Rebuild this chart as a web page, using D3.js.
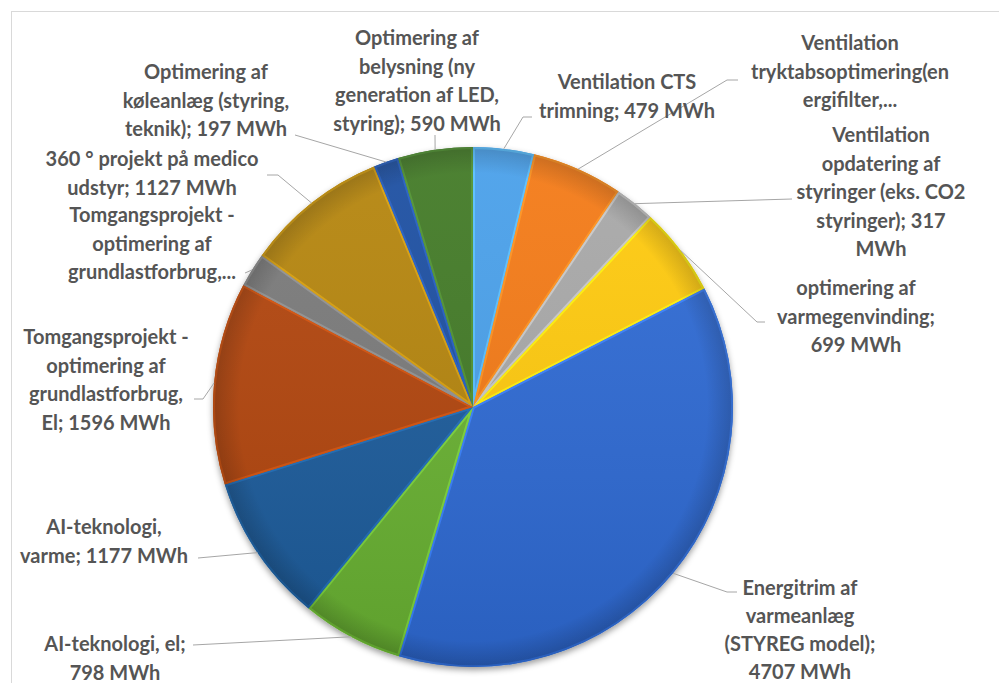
<!DOCTYPE html>
<html>
<head>
<meta charset="utf-8">
<script src="https://cdn.jsdelivr.net/npm/d3@7"></script>
<style>
	html, body { margin: 0; padding: 0; background: #fff; }
	svg { display: block; }
</style>
</head>
<body>
<div id="chart"></div>
<script>
// DATA (clockwise from 12 o'clock)
const categories = [
	"Ventilation CTS trimning",
	"Ventilation tryktabsoptimering(energifilter,...",
	"Ventilation opdatering af styringer (eks. CO2 styringer)",
	"optimering af varmegenvinding",
	"Energitrim af varmeanlæg (STYREG model)",
	"AI-teknologi, el",
	"AI-teknologi, varme",
	"Tomgangsprojekt - optimering af grundlastforbrug, El",
	"Tomgangsprojekt - optimering af grundlastforbrug,...",
	"360 ° projekt på medico udstyr",
	"Optimering af køleanlæg (styring, teknik)",
	"Optimering af belysning (ny generation af LED, styring)",
];
const values = [479, 720, 317, 699, 4707, 798, 1177, 1596, 270, 1127, 197, 590];
const labelLines = [
	["Ventilation CTS", "trimning; 479 MWh"],
	["Ventilation", "tryktabsoptimering(en", "ergifilter,..."],
	["Ventilation", "opdatering af", "styringer (eks. CO2", "styringer); 317", "MWh"],
	["optimering af", "varmegenvinding;", "699 MWh"],
	["Energitrim af", "varmeanlæg", "(STYREG model);", "4707 MWh"],
	["AI-teknologi, el;", "798 MWh"],
	["AI-teknologi,", "varme; 1177 MWh"],
	["Tomgangsprojekt -", "optimering af", "grundlastforbrug,", "El; 1596 MWh"],
	["Tomgangsprojekt -", "optimering af", "grundlastforbrug,..."],
	["360 ° projekt på medico", "udstyr; 1127 MWh"],
	["Optimering af", "køleanlæg (styring,", "teknik); 197 MWh"],
	["Optimering af", "belysning (ny", "generation af LED,", "styring); 590 MWh"],
];
const colors = [
	"#4aa0ea", "#f47a18", "#a8a8a8", "#ffca08", "#2f6bd4", "#69b232",
	"#1a5c9c", "#b2450a", "#7a7a7a", "#b5850a", "#1d4fa2", "#427a28",
];

// LABEL LAYOUT: text centre x, first line y, attach point, elbow x
const labelLayout = [
	{ cx: 627, y: 82, ax: 532, ay: 117, ex: 523 },
	{ cx: 850, y: 43, ax: 738, ay: 80, ex: 727 },
	{ cx: 881, y: 135, ax: 792, ay: 199, ex: null },
	{ cx: 856, y: 288, ax: 765, ay: 322, ex: 757 },
	{ cx: 800, y: 588, ax: 737, ay: 592, ex: 727 },
	{ cx: 115, y: 644, ax: 193, ay: 645, ex: null },
	{ cx: 104, y: 527, ax: 198, ay: 558, ex: null },
	{ cx: 106, y: 337, ax: 194, ay: 399, ex: 203 },
	{ cx: 152, y: 215, ax: 245, ay: 273, ex: null },
	{ cx: 152, y: 159, ax: 267, ay: 175, ex: 278 },
	{ cx: 206, y: 72, ax: 295, ay: 135, ex: null },
	{ cx: 417, y: 38, ax: 435, ay: 135, ex: null },
];

//DIMENSIONS
const width = 999,
	height = 683,
	cx = 473,
	cy = 407,
	radius = 260,
	lineHeight = 28.5;

const svg = d3
	.select("#chart")
	.append("svg")
	.attr("width", width)
	.attr("height", height);

const defs = svg.append("defs");

//SHADOW UNDER PIE
defs
	.append("filter")
	.attr("id", "pieShadow")
	.attr("x", "-10%")
	.attr("y", "-10%")
	.attr("width", "120%")
	.attr("height", "120%")
	.append("feDropShadow")
	.attr("dx", 0)
	.attr("dy", 3)
	.attr("stdDeviation", 3)
	.attr("flood-color", "rgba(0,0,0,0.4)");

//RIM SHADING
const rim = defs.append("radialGradient").attr("id", "rimShade");
rim.append("stop").attr("offset", "0%").attr("stop-color", "#000").attr("stop-opacity", 0);
rim.append("stop").attr("offset", "90%").attr("stop-color", "#000").attr("stop-opacity", 0);
rim.append("stop").attr("offset", "100%").attr("stop-color", "#000").attr("stop-opacity", 0.18);

const vert = defs
	.append("linearGradient")
	.attr("id", "vertShade")
	.attr("x1", 0)
	.attr("y1", 0)
	.attr("x2", 0)
	.attr("y2", 1);
vert.append("stop").attr("offset", "0%").attr("stop-color", "#fff").attr("stop-opacity", 0.06);
vert.append("stop").attr("offset", "100%").attr("stop-color", "#000").attr("stop-opacity", 0.1);

//CHART FRAME
svg
	.append("rect")
	.attr("x", 11.5)
	.attr("y", 11.5)
	.attr("width", width)
	.attr("height", height)
	.attr("fill", "none")
	.attr("stroke", "#d9d9d9")
	.attr("stroke-width", 1);

//PIE
const pie = d3.pie().value(d => d).sort(null);
const arc = d3.arc().innerRadius(0).outerRadius(radius);
const rimArc = d3.arc().innerRadius(radius).outerRadius(radius);
const pieData = pie(values);

const chartGroup = svg.append("g").attr("transform", `translate(${cx}, ${cy})`);

pieData.forEach((d, i) => {
	defs.append("clipPath").attr("id", `clip${i}`).append("path").attr("d", arc(d));
});

chartGroup
	.append("g")
	.attr("filter", "url(#pieShadow)")
	.selectAll("path")
	.data(pieData)
	.enter()
	.append("path")
	.attr("d", arc)
	.attr("fill", (d, i) => colors[i]);

// bevel edges
chartGroup
	.append("g")
	.selectAll("path")
	.data(pieData)
	.enter()
	.append("path")
	.attr("d", arc)
	.attr("clip-path", (d, i) => `url(#clip${i})`)
	.attr("fill", "none")
	.attr("stroke", (d, i) => d3.color(colors[i]).brighter(0.5))
	.attr("stroke-width", 4)
	.attr("stroke-linejoin", "round");

chartGroup.append("circle").attr("r", radius).attr("fill", "url(#rimShade)");
chartGroup.append("circle").attr("r", radius).attr("fill", "url(#vertShade)");

//LEADER LINES
svg
	.append("g")
	.selectAll("polyline")
	.data(pieData)
	.enter()
	.append("polyline")
	.attr("points", (d, i) => {
		const L = labelLayout[i];
		const p = rimArc.centroid(d);
		const pts = [[cx + p[0], cy + p[1]]];
		if (L.ex !== null) pts.push([L.ex, L.ay]);
		pts.push([L.ax, L.ay]);
		return pts;
	})
	.attr("fill", "none")
	.attr("stroke", "#a6a6a6")
	.attr("stroke-width", 1);

//LABELS
const labels = svg
	.append("g")
	.selectAll("text")
	.data(labelLines)
	.enter()
	.append("text")
	.attr("text-anchor", "middle")
	.style("font-family", "Lato, sans-serif")
	.style("font-weight", 700)
	.style("font-size", "20px")
	.style("fill", "#555555");

labels
	.selectAll("tspan")
	.data((lines, i) => lines.map(t => ({ t, i })))
	.enter()
	.append("tspan")
	.attr("x", d => labelLayout[d.i].cx)
	.attr("y", (d, j) => labelLayout[d.i].y + j * (d.i === 4 ? 28 : lineHeight))
	.attr("dy", "0.36em")
	.text(d => d.t);
</script>
</body>
</html>
